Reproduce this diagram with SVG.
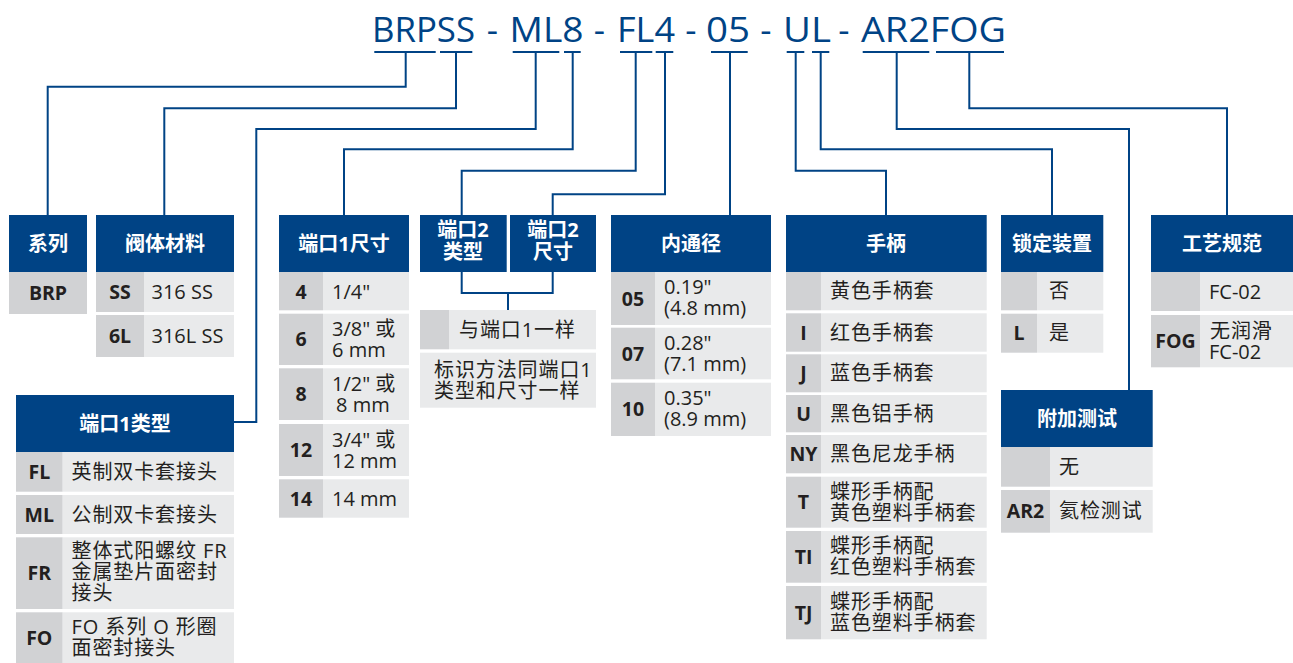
<svg xmlns="http://www.w3.org/2000/svg" width="1293" height="663" viewBox="0 0 1293 663">
<style>
.hd{fill:#004385}
.cd{fill:#d1d2d4}
.ds{fill:#e9eaeb}
.ht{font-family:"Open Sans","Noto Sans CJK SC",sans-serif;font-weight:700;font-size:20px;fill:#fff;text-anchor:middle}
.ct{font-family:"Open Sans","Noto Sans CJK SC",sans-serif;font-weight:700;font-size:19.5px;fill:#231f20;text-anchor:middle}
.dt{font-family:"Open Sans","Noto Sans CJK SC",sans-serif;font-size:20px;fill:#231f20}
.cj{letter-spacing:0.9px}
.tt{font-family:"Open Sans","Noto Sans CJK SC",sans-serif;font-size:35px;fill:#004385}
.ln{fill:none;stroke:#004385;stroke-width:2}
</style>
<rect width="1293" height="663" fill="#fff"/>
<g id="title">
<text class="tt" x="372" y="42" textLength="103" lengthAdjust="spacingAndGlyphs">BRPSS</text>
<text class="tt" x="492.5" y="42" text-anchor="middle">-</text>
<text class="tt" x="509.5" y="42" textLength="74" lengthAdjust="spacingAndGlyphs">ML8</text>
<text class="tt" x="599.5" y="42" text-anchor="middle">-</text>
<text class="tt" x="617" y="42" textLength="58" lengthAdjust="spacingAndGlyphs">FL4</text>
<text class="tt" x="691" y="42" text-anchor="middle">-</text>
<text class="tt" x="706" y="42" textLength="44" lengthAdjust="spacingAndGlyphs">05</text>
<text class="tt" x="766" y="42" text-anchor="middle">-</text>
<text class="tt" x="783" y="42" textLength="48" lengthAdjust="spacingAndGlyphs">UL</text>
<text class="tt" x="844" y="42" text-anchor="middle">-</text>
<text class="tt" x="861" y="42" textLength="145" lengthAdjust="spacingAndGlyphs">AR2FOG</text>
</g>
<g id="connectors" class="ln">
<path d="M374.3 52H435.7M440 52H472.3M512.7 52H559.3M564 52H580.7M620 52H652.3M655.7 52H673.3M711 52H747.7M786.7 52H804.3M812 52H829.3M862.7 52H929.3M936 52H1004"/>
<path d="M405.7 52V86.7H47.7V215"/>
<path d="M456 52V108.3H164.3V215"/>
<path d="M535.7 52V129H256.3V422H234"/>
<path d="M572.7 52V149.3H344V215"/>
<path d="M635.7 52V170.7H461.7V215"/>
<path d="M665 52V194.3H552.7V215"/>
<path d="M730 52V215"/>
<path d="M795.7 52V170.7H886V215"/>
<path d="M820.7 52V149.3H1052V215"/>
<path d="M896.7 52V129H1129V390"/>
<path d="M969.3 52V108.3H1227V215"/>
<path d="M461.7 272V293H552.7V272M508 293V310"/>
</g>
<g id="series">
<rect class="hd" x="9" y="215" width="78" height="57"/>
<text class="ht" x="48" y="251">系列</text>
<rect class="cd" x="9" y="272" width="78" height="42"/>
<text class="ct" x="48" y="300">BRP</text>
</g>
<g id="body-material">
<rect class="hd" x="96" y="215" width="138" height="57"/>
<text class="ht" x="165" y="251">阀体材料</text>
<rect class="cd" x="96" y="272" width="48" height="40"/>
<rect class="ds" x="144" y="272" width="90" height="40"/>
<text class="ct" x="120" y="299">SS</text>
<text class="dt" x="151.5" y="299">316 SS</text>
<rect class="cd" x="96" y="315" width="48" height="42"/>
<rect class="ds" x="144" y="315" width="90" height="42"/>
<text class="ct" x="120" y="343">6L</text>
<text class="dt" x="151.5" y="343">316L SS</text>
</g>
<g id="port1-size">
<rect class="hd" x="279" y="215" width="130" height="57"/>
<text class="ht" x="344" y="251">端口1尺寸</text>
<rect class="cd" x="279" y="272" width="44" height="38.3"/>
<rect class="ds" x="323" y="272" width="86" height="38.3"/>
<text class="ct" x="301" y="298.5">4</text>
<text class="dt" x="332" y="298.5">1/4"</text>
<rect class="cd" x="279" y="313.7" width="44" height="51.3"/>
<rect class="ds" x="323" y="313.7" width="86" height="51.3"/>
<text class="ct" x="301" y="346">6</text>
<text class="dt" x="332" y="336">3/8" 或<tspan x="332" dy="21">6 mm</tspan></text>
<rect class="cd" x="279" y="368.3" width="44" height="51.7"/>
<rect class="ds" x="323" y="368.3" width="86" height="51.7"/>
<text class="ct" x="301" y="401">8</text>
<text class="dt" x="332" y="391">1/2" 或<tspan x="336" dy="21">8 mm</tspan></text>
<rect class="cd" x="279" y="424" width="44" height="52"/>
<rect class="ds" x="323" y="424" width="86" height="52"/>
<text class="ct" x="301" y="457">12</text>
<text class="dt" x="332" y="447">3/4" 或<tspan x="332" dy="21">12 mm</tspan></text>
<rect class="cd" x="279" y="479.3" width="44" height="38.4"/>
<rect class="ds" x="323" y="479.3" width="86" height="38.4"/>
<text class="ct" x="301" y="505.5">14</text>
<text class="dt" x="332" y="505.5">14 mm</text>
</g>
<g id="port2">
<rect class="hd" x="420" y="215" width="86.7" height="57"/>
<text class="ht" x="463" y="237">端口2<tspan x="463" dy="22">类型</tspan></text>
<rect class="hd" x="510" y="215" width="86" height="57"/>
<text class="ht" x="553" y="237">端口2<tspan x="553" dy="22">尺寸</tspan></text>
<rect class="cd" x="420" y="310" width="29" height="39.3"/>
<rect class="ds" x="449" y="310" width="147" height="39.3"/>
<text class="dt cj" x="459" y="337">与端口1一样</text>
<rect class="ds" x="420" y="352.7" width="176" height="55"/>
<text class="dt cj" x="434" y="377">标识方法同端口1<tspan x="434" dy="21">类型和尺寸一样</tspan></text>
</g>
<g id="bore">
<rect class="hd" x="611" y="215" width="160" height="57"/>
<text class="ht" x="691" y="251">内通径</text>
<rect class="cd" x="611" y="272" width="44" height="53"/>
<rect class="ds" x="655" y="272" width="116" height="53"/>
<text class="ct" x="633" y="305.5">05</text>
<text class="dt" x="664" y="294">0.19"<tspan x="664" dy="21">(4.8 mm)</tspan></text>
<rect class="cd" x="611" y="327.7" width="44" height="51.6"/>
<rect class="ds" x="655" y="327.7" width="116" height="51.6"/>
<text class="ct" x="633" y="360.5">07</text>
<text class="dt" x="664" y="350">0.28"<tspan x="664" dy="21">(7.1 mm)</tspan></text>
<rect class="cd" x="611" y="382.7" width="44" height="53.3"/>
<rect class="ds" x="655" y="382.7" width="116" height="53.3"/>
<text class="ct" x="633" y="416.4">10</text>
<text class="dt" x="664" y="405">0.35"<tspan x="664" dy="21">(8.9 mm)</tspan></text>
</g>
<g id="handle">
<rect class="hd" x="786" y="215" width="200.7" height="57"/>
<text class="ht" x="886" y="251">手柄</text>
<rect class="cd" x="786" y="272" width="35" height="38.3"/>
<rect class="ds" x="821" y="272" width="165.7" height="38.3"/>
<text class="dt cj" x="830" y="298">黄色手柄套</text>
<rect class="cd" x="786" y="313.3" width="35" height="38.4"/>
<rect class="ds" x="821" y="313.3" width="165.7" height="38.4"/>
<text class="ct" x="803.5" y="339.5">I</text>
<text class="dt cj" x="830" y="339.5">红色手柄套</text>
<rect class="cd" x="786" y="354.3" width="35" height="38"/>
<rect class="ds" x="821" y="354.3" width="165.7" height="38"/>
<text class="ct" x="803.5" y="380.3">J</text>
<text class="dt cj" x="830" y="380.3">蓝色手柄套</text>
<rect class="cd" x="786" y="395" width="35" height="37.3"/>
<rect class="ds" x="821" y="395" width="165.7" height="37.3"/>
<text class="ct" x="803.5" y="420.7">U</text>
<text class="dt cj" x="830" y="420.7">黑色铝手柄</text>
<rect class="cd" x="786" y="435" width="35" height="38.3"/>
<rect class="ds" x="821" y="435" width="165.7" height="38.3"/>
<text class="ct" x="803.5" y="461.2">NY</text>
<text class="dt cj" x="830" y="461.2">黑色尼龙手柄</text>
<rect class="cd" x="786" y="476.7" width="35" height="51"/>
<rect class="ds" x="821" y="476.7" width="165.7" height="51"/>
<text class="ct" x="803.5" y="509.2">T</text>
<text class="dt cj" x="830" y="498.7">蝶形手柄配<tspan x="830" dy="21">黄色塑料手柄套</tspan></text>
<rect class="cd" x="786" y="531" width="35" height="51.7"/>
<rect class="ds" x="821" y="531" width="165.7" height="51.7"/>
<text class="ct" x="803.5" y="563.9">TI</text>
<text class="dt cj" x="830" y="553.4">蝶形手柄配<tspan x="830" dy="21">红色塑料手柄套</tspan></text>
<rect class="cd" x="786" y="586" width="35" height="53.3"/>
<rect class="ds" x="821" y="586" width="165.7" height="53.3"/>
<text class="ct" x="803.5" y="619.7">TJ</text>
<text class="dt cj" x="830" y="609.2">蝶形手柄配<tspan x="830" dy="21">蓝色塑料手柄套</tspan></text>
</g>
<g id="lock">
<rect class="hd" x="1001" y="215" width="102.3" height="57"/>
<text class="ht" x="1052" y="251">锁定装置</text>
<rect class="cd" x="1001" y="272" width="36" height="38.3"/>
<rect class="ds" x="1037" y="272" width="66.3" height="38.3"/>
<text class="dt" x="1049" y="298">否</text>
<rect class="cd" x="1001" y="313.7" width="36" height="39"/>
<rect class="ds" x="1037" y="313.7" width="66.3" height="39"/>
<text class="ct" x="1019" y="340">L</text>
<text class="dt" x="1049" y="340">是</text>
</g>
<g id="process">
<rect class="hd" x="1151" y="215" width="142" height="57"/>
<text class="ht" x="1222" y="251">工艺规范</text>
<rect class="cd" x="1151" y="272" width="49" height="39"/>
<rect class="ds" x="1200" y="272" width="93" height="39"/>
<text class="dt" x="1209" y="298.5">FC-02</text>
<rect class="cd" x="1151" y="315" width="49" height="52.3"/>
<rect class="ds" x="1200" y="315" width="93" height="52.3"/>
<text class="ct" x="1175.5" y="348">FOG</text>
<text class="dt" x="1210" y="337.7"><tspan class="cj">无润滑</tspan><tspan x="1209" dy="21">FC-02</tspan></text>
</g>
<g id="test">
<rect class="hd" x="1001" y="390" width="151.7" height="57"/>
<text class="ht" x="1077" y="425.5">附加测试</text>
<rect class="cd" x="1001" y="447" width="49" height="39.7"/>
<rect class="ds" x="1050" y="447" width="102.7" height="39.7"/>
<text class="dt" x="1059" y="474">无</text>
<rect class="cd" x="1001" y="490" width="49" height="42.7"/>
<rect class="ds" x="1050" y="490" width="102.7" height="42.7"/>
<text class="ct" x="1025.5" y="518.4">AR2</text>
<text class="dt cj" x="1059" y="518.4">氦检测试</text>
</g>
<g id="port1-type">
<rect class="hd" x="16" y="395" width="218" height="57"/>
<text class="ht" x="125" y="430.5">端口1类型</text>
<rect class="cd" x="16" y="452" width="46.7" height="39.7"/>
<rect class="ds" x="62.7" y="452" width="171.3" height="39.7"/>
<text class="ct" x="39.3" y="479">FL</text>
<text class="dt cj" x="71.5" y="479">英制双卡套接头</text>
<rect class="cd" x="16" y="495" width="46.7" height="39"/>
<rect class="ds" x="62.7" y="495" width="171.3" height="39"/>
<text class="ct" x="39.3" y="521.5">ML</text>
<text class="dt cj" x="71.5" y="521.5">公制双卡套接头</text>
<rect class="cd" x="16" y="537.3" width="46.7" height="71.7"/>
<rect class="ds" x="62.7" y="537.3" width="171.3" height="71.7"/>
<text class="ct" x="39.3" y="580.2">FR</text>
<text class="dt cj" x="71.5" y="558">整体式阳螺纹 FR<tspan x="71.5" dy="21">金属垫片面密封</tspan><tspan x="71.5" dy="21">接头</tspan></text>
<rect class="cd" x="16" y="612.3" width="46.7" height="50.7"/>
<rect class="ds" x="62.7" y="612.3" width="171.3" height="50.7"/>
<text class="ct" x="39.3" y="644.6">FO</text>
<text class="dt cj" x="71.5" y="634">FO 系列 O 形圈<tspan x="71.5" dy="21">面密封接头</tspan></text>
</g>
</svg>
